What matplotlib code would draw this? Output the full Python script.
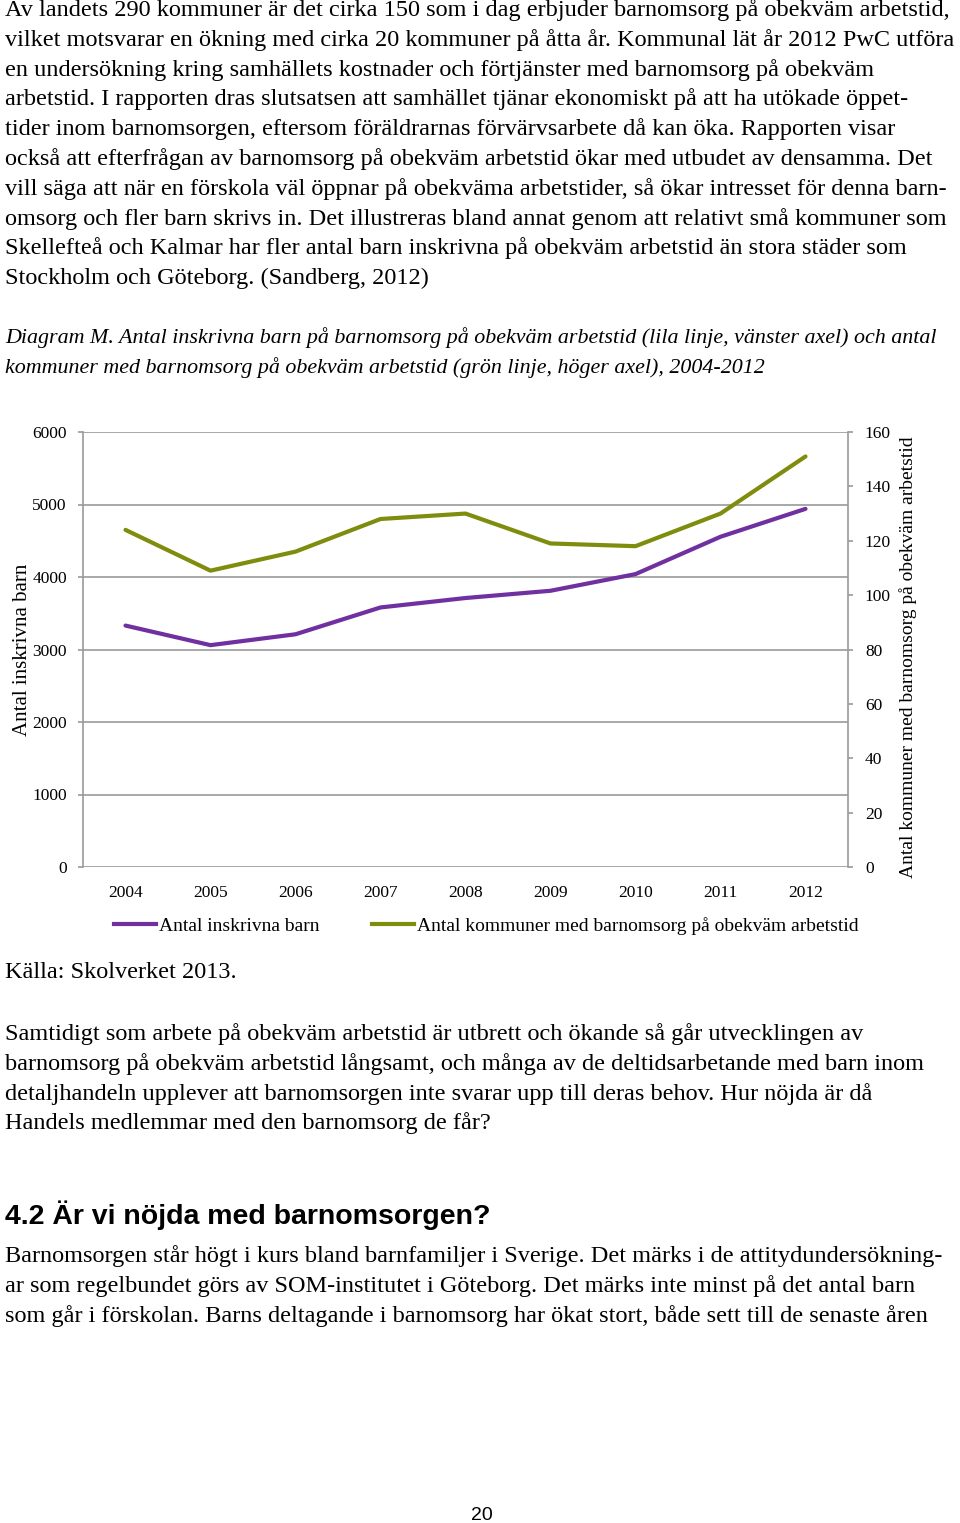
import matplotlib.pyplot as plt
from matplotlib.lines import Line2D

years = ["2004", "2005", "2006", "2007", "2008", "2009", "2010", "2011", "2012"]
barn = [3330, 3060, 3210, 3580, 3710, 3810, 4040, 4555, 4940]
kommuner = [124, 109, 116, 128, 130, 119, 118, 130, 151]

left_ticks = [0, 1000, 2000, 3000, 4000, 5000, 6000]
right_ticks = [0, 20, 40, 60, 80, 100, 120, 140, 160]

para1 = [
    "Av landets 290 kommuner är det cirka 150 som i dag erbjuder barnomsorg på obekväm arbetstid,",
    "vilket motsvarar en ökning med cirka 20 kommuner på åtta år. Kommunal lät år 2012 PwC utföra",
    "en undersökning kring samhällets kostnader och förtjänster med barnomsorg på obekväm",
    "arbetstid. I rapporten dras slutsatsen att samhället tjänar ekonomiskt på att ha utökade öppet-",
    "tider inom barnomsorgen, eftersom föräldrarnas förvärvsarbete då kan öka. Rapporten visar",
    "också att efterfrågan av barnomsorg på obekväm arbetstid ökar med utbudet av densamma. Det",
    "vill säga att när en förskola väl öppnar på obekväma arbetstider, så ökar intresset för denna barn-",
    "omsorg och fler barn skrivs in. Det illustreras bland annat genom att relativt små kommuner som",
    "Skellefteå och Kalmar har fler antal barn inskrivna på obekväm arbetstid än stora städer som",
    "Stockholm och Göteborg. (Sandberg, 2012)",
]
caption = [
    "Diagram M. Antal inskrivna barn på barnomsorg på obekväm arbetstid (lila linje, vänster axel) och antal",
    "kommuner med barnomsorg på obekväm arbetstid (grön linje, höger axel), 2004-2012",
]
para2 = [
    "Samtidigt som arbete på obekväm arbetstid är utbrett och ökande så går utvecklingen av",
    "barnomsorg på obekväm arbetstid långsamt, och många av de deltidsarbetande med barn inom",
    "detaljhandeln upplever att barnomsorgen inte svarar upp till deras behov. Hur nöjda är då",
    "Handels medlemmar med den barnomsorg de får?",
]
para3 = [
    "Barnomsorgen står högt i kurs bland barnfamiljer i Sverige. Det märks i de attitydundersökning-",
    "ar som regelbundet görs av SOM-institutet i Göteborg. Det märks inte minst på det antal barn",
    "som går i förskolan. Barns deltagande i barnomsorg har ökat stort, både sett till de senaste åren",
]

W, H = 960, 1523
serif = "Liberation Serif"
purple = "#7030a0"
green = "#7f8c0d"
grid = "#9a9a9a"


def fy(y):
    return 1 - y / H


fig = plt.figure(figsize=(W / 100, H / 100), dpi=100)

# body text
def block(lines, y0, step=29.8, size=17.5, **kw):
    for i, s in enumerate(lines):
        fig.text(5 / W, fy(y0 + i * step), s, ha="left", va="center",
                 fontsize=size, family=serif, color="black", **kw)

block(para1, 10)
block(caption, 338, step=30, size=15.8, style="italic")
fig.text(5 / W, fy(973), "Källa: Skolverket 2013.", ha="left", va="center",
         fontsize=17.5, family=serif)
block(para2, 1034)
fig.text(5 / W, fy(1215), "4.2 Är vi nöjda med barnomsorgen?", ha="left", va="center",
         fontsize=20.5, family="Liberation Sans", weight="bold")
block(para3, 1256)
fig.text(482 / W, fy(1515), "20", ha="center", va="center",
         fontsize=14, family="Liberation Sans")

# chart
ax = fig.add_axes([83 / W, fy(867), (848 - 83) / W, (867 - 432) / H])
x = range(len(years))
ax.plot(x, barn, color=purple, lw=3, solid_capstyle="round")
ax.set_xlim(-0.5, len(years) - 0.5)
ax.set_ylim(0, 6000)
ax.set_yticks(left_ticks)
ax.set_yticklabels([str(t) for t in left_ticks], family=serif, fontsize=12.5)
ax.set_xticks(list(x))
ax.set_xticklabels(years, family=serif, fontsize=12.5)
ax.tick_params(axis="x", length=0, pad=13)
ax.tick_params(axis="y", direction="out", length=3.6, color=grid, width=1.2, pad=8)
ax.grid(axis="y", color=grid, lw=1.2)
ax.set_axisbelow(True)
for side in ["top", "right", "bottom"]:
    ax.spines[side].set_visible(False)
ax.spines["left"].set_color(grid)
ax.spines["left"].set_linewidth(1.2)
ax.set_ylabel("Antal inskrivna barn", family=serif, fontsize=15)
ax.yaxis.set_label_coords(-0.067, 0.499)

ax2 = ax.twinx()
ax2.plot(x, kommuner, color=green, lw=3, solid_capstyle="round")
ax2.set_ylim(0, 160)
ax2.set_yticks(right_ticks)
ax2.set_yticklabels([str(t) for t in right_ticks], family=serif, fontsize=12.5)
ax2.tick_params(axis="y", direction="out", length=3.6, color=grid, width=1.2, pad=8.6)
for side in ["top", "left", "bottom"]:
    ax2.spines[side].set_visible(False)
ax2.spines["right"].set_color(grid)
ax2.spines["right"].set_linewidth(1.2)
ax2.set_ylabel("Antal kommuner med barnomsorg på obekväm arbetstid", family=serif,
               fontsize=14)
ax2.yaxis.set_label_coords(1.0667, 0.483)

handles = [Line2D([], [], color=purple, lw=3), Line2D([], [], color=green, lw=3)]
fig.legend(handles, ["Antal inskrivna barn", "Antal kommuner med barnomsorg på obekväm arbetstid"],
           loc="center", bbox_to_anchor=(486 / W, fy(926)), ncol=2, frameon=False,
           handlelength=2.16, handletextpad=0.15, columnspacing=2.7,
           prop={"family": serif, "size": 14})

fig.savefig("out.png", dpi=100)
